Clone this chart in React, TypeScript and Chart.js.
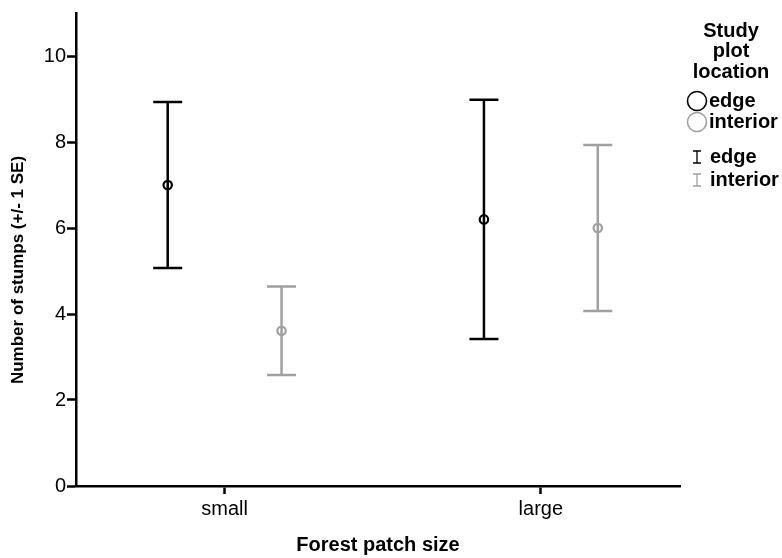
import React, { useEffect, useRef } from 'react';
import { Chart, registerables } from 'chart.js';

Chart.register(...registerables);

const categories = ['small', 'large'];
const seriesNames = ['edge', 'interior'];
const edgeMeans = [7.0, 6.2];
const edgeSE = [1.93, 2.78];
const interiorMeans = [3.61, 6.0];
const interiorSE = [1.03, 1.93];
const yTicks = [0, 2, 4, 6, 8, 10];
const legendTitle = ['Study', 'plot', 'location'];
const yTitle = 'Number of stumps (+/- 1 SE)';
const xTitle = 'Forest patch size';

const seriesMeans = [edgeMeans, interiorMeans];
const seriesSE = [edgeSE, interiorSE];
const colors = ['#000000', '#a0a0a0'];
const DODGE = 0.18;
const FONT = '"Liberation Sans", Arial, Helvetica, sans-serif';

const errorBarPlugin = {
  id: 'errorBars',
  beforeDatasetsDraw(chart: any) {
    const ctx = chart.ctx;
    const xs = chart.scales.x;
    const ys = chart.scales.y;
    ctx.save();
    seriesMeans.forEach((means, s) => {
      const offs = s === 0 ? -DODGE : DODGE;
      means.forEach((m, i) => {
        const se = seriesSE[s][i];
        const x = xs.getPixelForValue(i + 1 + offs);
        const yt = ys.getPixelForValue(m + se);
        const yb = ys.getPixelForValue(m - se);
        ctx.strokeStyle = colors[s];
        ctx.lineWidth = 2.5;
        ctx.beginPath();
        ctx.moveTo(x, yt);
        ctx.lineTo(x, yb);
        ctx.moveTo(x - 14.5, yt);
        ctx.lineTo(x + 14.5, yt);
        ctx.moveTo(x - 14.5, yb);
        ctx.lineTo(x + 14.5, yb);
        ctx.stroke();
      });
    });
    ctx.restore();
  },
};

const legendPlugin = {
  id: 'customLegend',
  afterDraw(chart: any) {
    const ctx = chart.ctx;
    ctx.save();
    // y-axis title
    ctx.fillStyle = '#000';
    ctx.font = `bold 17px ${FONT}`;
    ctx.textAlign = 'center';
    ctx.textBaseline = 'middle';
    ctx.translate(18, 270);
    ctx.rotate(-Math.PI / 2);
    ctx.fillText(yTitle, 0, 0);
    ctx.setTransform(1, 0, 0, 1, 0, 0);

    ctx.font = `bold 20px ${FONT}`;
    ctx.textAlign = 'center';
    legendTitle.forEach((t, i) => ctx.fillText(t, 731, 31 + i * 20.5));
    seriesNames.forEach((name, i) => {
      const y = 101 + i * 21;
      ctx.beginPath();
      ctx.arc(697, y, 9.5, 0, Math.PI * 2);
      ctx.strokeStyle = colors[i];
      ctx.lineWidth = 1.6;
      ctx.stroke();
      ctx.textAlign = 'left';
      ctx.fillStyle = '#000';
      ctx.fillText(name, 709, y);
    });
    seriesNames.forEach((name, i) => {
      const y = 157 + i * 23;
      ctx.strokeStyle = colors[i];
      ctx.lineWidth = 1.3;
      ctx.beginPath();
      ctx.moveTo(697, y - 6);
      ctx.lineTo(697, y + 6);
      ctx.moveTo(693, y - 6);
      ctx.lineTo(701, y - 6);
      ctx.moveTo(693, y + 6);
      ctx.lineTo(701, y + 6);
      ctx.stroke();
      ctx.textAlign = 'left';
      ctx.fillStyle = '#000';
      ctx.fillText(name, 710, y);
    });
    ctx.restore();
  },
};

export default function App() {
  const ref = useRef<HTMLCanvasElement | null>(null);
  useEffect(() => {
    if (!ref.current) return;
    const datasets = seriesNames.map((name, s) => ({
      label: name,
      data: seriesMeans[s].map((m, i) => ({ x: i + 1 + (s === 0 ? -DODGE : DODGE), y: m })),
      pointStyle: 'circle',
      pointRadius: 4.2,
      pointBorderWidth: 2.2,
      pointBorderColor: colors[s],
      pointBackgroundColor: 'rgba(0,0,0,0)',
      showLine: false,
    }));
    const chart = new Chart(ref.current, {
      type: 'scatter',
      data: { datasets },
      plugins: [errorBarPlugin, legendPlugin],
      options: {
        responsive: false,
        animation: false,
        layout: { padding: { left: 0, right: 102, top: 12, bottom: 0 } },
        plugins: { legend: { display: false }, tooltip: { enabled: false } },
        scales: {
          x: {
            type: 'linear',
            min: 0.53,
            max: 2.44,
            afterBuildTicks: (s: any) => {
              s.ticks = categories.map((_, i) => ({ value: i + 1 }));
            },
            afterFit: (s: any) => {
              s.height = 72;
            },
            ticks: {
              callback: (v: any) => categories[Math.round(Number(v)) - 1] ?? '',
              color: '#000',
              font: { family: FONT, size: 20 },
              padding: 3,
              autoSkip: false,
              maxRotation: 0,
            },
            grid: { drawOnChartArea: false, drawTicks: true, tickLength: 8, tickColor: '#000', tickWidth: 2.5 },
            border: { display: true, color: '#000', width: 2.5 },
            title: {
              display: true,
              text: xTitle,
              color: '#000',
              font: { family: FONT, size: 20, weight: 'bold' },
              padding: { top: 0, bottom: 1 },
            },
          },
          y: {
            min: 0,
            max: 11,
            afterBuildTicks: (s: any) => {
              s.ticks = yTicks.map((v) => ({ value: v }));
            },
            afterFit: (s: any) => {
              s.width = 76;
            },
            ticks: {
              color: '#000',
              font: { family: FONT, size: 20 },
              padding: 1,
            },
            grid: { drawOnChartArea: false, drawTicks: true, tickLength: 9, tickColor: '#000', tickWidth: 2.5 },
            border: { display: true, color: '#000', width: 2.5 },
            title: { display: false },
          },
        },
      },
    } as any);
    return () => chart.destroy();
  }, []);
  return (
    <div style={{ position: 'fixed', left: 0, top: 0, width: 782, height: 558, background: '#fff' }}>
      <canvas ref={ref} width={782} height={558} style={{ display: 'block', width: 782, height: 558 }} />
    </div>
  );
}
